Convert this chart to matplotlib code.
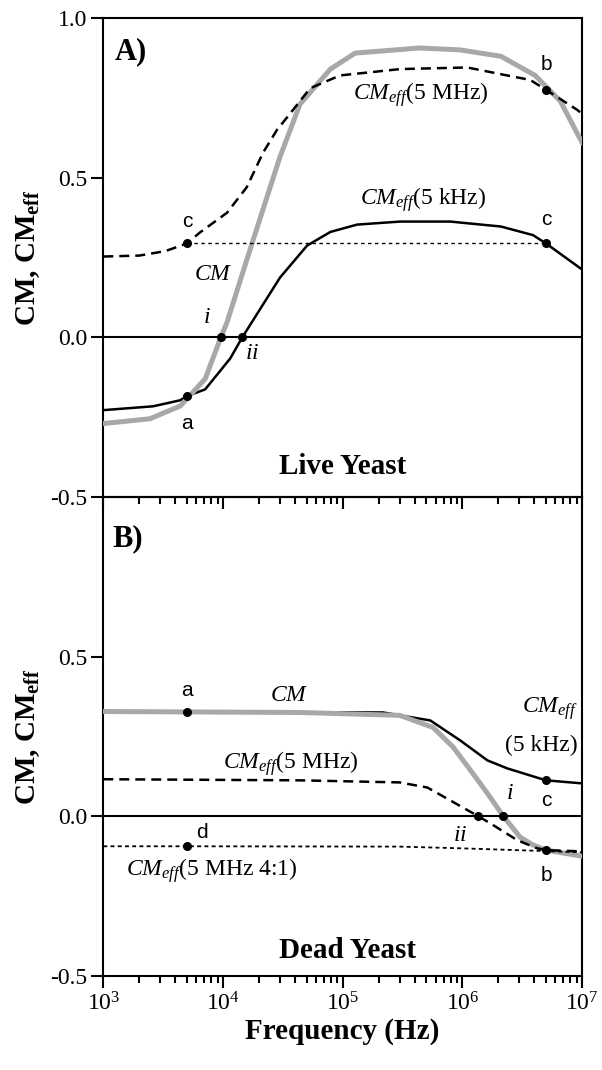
import numpy as np
import matplotlib
matplotlib.use("Agg")
import matplotlib.pyplot as plt
from matplotlib.ticker import LogLocator, NullFormatter, FixedLocator

plt.rcParams['font.family'] = ['Liberation Serif', 'DejaVu Serif']
plt.rcParams['mathtext.fontset'] = 'custom'
plt.rcParams['mathtext.rm'] = 'Liberation Serif'
plt.rcParams['mathtext.it'] = 'Liberation Serif:italic'
plt.rcParams['mathtext.bf'] = 'Liberation Serif:bold'

# ---- panel A: live yeast ----
a_cm_f = [1e3, 2.45e3, 4.4e3, 7.1e3, 9.6e3, 1.08e4, 1.79e4, 3.0e4, 4.4e4, 7.9e4,
          1.27e5, 4.4e5, 9.6e5, 2.1e6, 4.06e6, 6.58e6, 1e7]
a_cm_v = [-0.27, -0.255, -0.215, -0.13, 0.0, 0.047, 0.306, 0.566, 0.73, 0.84,
          0.89, 0.906, 0.9, 0.88, 0.82, 0.74, 0.61]

a_mhz_f = [1e3, 2.0e3, 3.3e3, 5e3, 6.4e3, 1.08e4, 1.58e4, 2.16e4, 2.83e4, 3.63e4,
           5.35e4, 9.5e4, 3.03e5, 1.1e6, 2.37e6, 3.69e6, 5e6, 9.1e6, 1e7]
a_mhz_v = [0.253, 0.256, 0.27, 0.294, 0.328, 0.39, 0.47, 0.578, 0.65, 0.70,
           0.78, 0.82, 0.84, 0.845, 0.82, 0.806, 0.775, 0.7125, 0.70]

a_khz_f = [1e3, 2.6e3, 4.4e3, 5e3, 7.1e3, 1.15e4, 1.45e4, 3.0e4, 5.05e4, 7.9e4,
           1.32e5, 3.03e5, 7.9e5, 2.1e6, 3.9e6, 5e6, 1e7]
a_khz_v = [-0.228, -0.216, -0.197, -0.184, -0.163, -0.066, 0.0, 0.1875, 0.2875, 0.33,
           0.353, 0.3625, 0.3625, 0.347, 0.32, 0.294, 0.2125]

a_pts_f = [5e3, 5e3, 9.6e3, 1.45e4, 5e6, 5e6]
a_pts_v = [0.294, -0.184, 0.0, 0.0, 0.775, 0.294]

# ---- panel B: dead yeast ----
b_cm_f = [1e3, 4.4e4, 3.0e5, 5.7e5, 8.4e5, 1.17e6, 1.62e6, 2.2e6, 3.05e6, 3.9e6, 5e6, 1e7]
b_cm_v = [0.328, 0.325, 0.316, 0.278, 0.216, 0.144, 0.072, 0.0, -0.066, -0.09, -0.106, -0.125]

b_khz_f = [1e3, 2.18e5, 5.4e5, 9.6e5, 1.62e6, 2.37e6, 5e6, 1e7]
b_khz_v = [0.328, 0.325, 0.30, 0.2375, 0.175, 0.15, 0.1125, 0.103]

b_mhz_f = [1e3, 4.4e4, 3.0e5, 5.1e5, 7.9e5, 1.36e6, 1.71e6, 2.88e6, 4.2e6, 5e6, 1e7]
b_mhz_v = [0.116, 0.1125, 0.106, 0.09, 0.05, 0.0, -0.022, -0.075, -0.1, -0.106, -0.11]

b_41_f = [1e3, 5e3, 3.0e5, 9.1e5, 5e6, 1e7]
b_41_v = [-0.094, -0.094, -0.095, -0.1, -0.109, -0.113]

b_pts_f = [5e3, 5e3, 1.36e6, 2.2e6, 5e6, 5e6]
b_pts_v = [0.328, -0.094, 0.0, 0.0, 0.1125, -0.106]

gray = '#a8a8a8'
fig = plt.figure(figsize=(6.02, 10.70), dpi=100)
axA = fig.add_axes([0.1716, 0.5355, 0.7952, 0.4477])
axB = fig.add_axes([0.1716, 0.0879, 0.7952, 0.4477])
axB.set_facecolor('none')

for ax in (axA, axB):
    ax.set_xscale('log')
    ax.set_xlim(1e3, 1e7)
    ax.set_ylim(-0.5, 1.0)
    ax.axhline(0, color='black', lw=1.5, zorder=1)
    for s in ax.spines.values():
        s.set_linewidth(1.5)
    ax.xaxis.set_major_locator(LogLocator(base=10, numticks=10))
    ax.xaxis.set_minor_locator(LogLocator(base=10, subs=np.arange(2, 10), numticks=10))
    ax.xaxis.set_minor_formatter(NullFormatter())
    ax.tick_params(which='major', direction='out', length=8.5, width=1.5, labelsize=17,
                   top=False, right=False, pad=3)
    ax.tick_params(which='minor', direction='out', length=5, width=1.5, top=False, right=False)
    ax.set_ylabel(r'CM, CM$_{\mathbf{eff}}$', fontsize=21, fontweight='bold')
    ax.yaxis.set_label_coords(-0.128, 0.5)

axA.yaxis.set_major_locator(FixedLocator([-0.5, 0.0, 0.5, 1.0]))
axA.set_yticklabels(['-0.5', '0.0', '0.5', '1.0'])
axA.tick_params(axis='x', labelbottom=False)
axB.yaxis.set_major_locator(FixedLocator([-0.5, 0.0, 0.5]))
axB.set_yticklabels(['-0.5', '0.0', '0.5'])

# panel A curves
axA.plot(a_khz_f, a_khz_v, color='black', lw=1.8, zorder=2)
axA.plot(a_cm_f, a_cm_v, color=gray, lw=3.6, zorder=3)
axA.plot(a_mhz_f, a_mhz_v, color='black', lw=1.8, dashes=(4, 2.4), zorder=4)
axA.plot([5e3, 5e6], [0.294, 0.294], color='black', lw=1.0, dashes=(2.5, 2.5), zorder=4)
axA.plot(a_pts_f, a_pts_v, 'o', color='black', ms=5.5, zorder=6)

# panel B curves
axB.plot(b_khz_f, b_khz_v, color='black', lw=1.8, zorder=2)
axB.plot(b_cm_f, b_cm_v, color=gray, lw=3.6, zorder=3)
axB.plot(b_mhz_f, b_mhz_v, color='black', lw=1.8, dashes=(4, 2.4), zorder=4)
axB.plot(b_41_f, b_41_v, color='black', lw=1.3, dashes=(2.2, 1.8), zorder=4)
axB.plot(b_pts_f, b_pts_v, 'o', color='black', ms=5.5, zorder=6)

sans = dict(family='Liberation Sans', fontsize=15, ha='center', va='center')
ital = dict(fontsize=17, ha='center', va='center')

# panel A text
axA.text(1.25e3, 0.894, 'A)', fontsize=22, fontweight='bold', ha='left', va='center')
axA.text(5e3, 0.3625, 'c', **sans)
axA.text(5e6, 0.853, 'b', **sans)
axA.text(5e6, 0.369, 'c', **sans)
axA.text(5e3, -0.27, 'a', **sans)
axA.text(7.4e3, 0.0625, r'$i$', **ital)
axA.text(1.75e4, -0.05, r'$ii$', **ital)
axA.text(8.3e3, 0.197, r'$CM$', **ital)
axA.text(4.5e5, 0.76, r'$CM_{eff}$(5 MHz)', **ital)
axA.text(4.7e5, 0.43, r'$CM_{eff}$(5 kHz)', **ital)
axA.text(1.0e5, -0.406, 'Live Yeast', fontsize=21, fontweight='bold', ha='center', va='center')

# panel B text
axB.text(1.2e3, 0.869, 'B)', fontsize=22, fontweight='bold', ha='left', va='center')
axB.text(5e3, 0.394, 'a', **sans)
axB.text(3.6e4, 0.378, r'$CM$', **ital)
axB.text(3.65e4, 0.166, r'$CM_{eff}$(5 MHz)', **ital)
axB.text(6.7e3, -0.05, 'd', **sans)
axB.text(8.1e3, -0.169, r'$CM_{eff}$(5 MHz 4:1)', **ital)
axB.text(9.2e6, 0.3375, r'$CM_{eff}$', fontsize=17, ha='right', va='center')
axB.text(9.2e6, 0.222, '(5 kHz)', fontsize=17, ha='right', va='center')
axB.text(5e6, 0.05, 'c', **sans)
axB.text(2.5e6, 0.072, r'$i$', **ital)
axB.text(9.6e5, -0.06, r'$ii$', **ital)
axB.text(5e6, -0.184, 'b', **sans)
axB.text(1.1e5, -0.419, 'Dead Yeast', fontsize=21, fontweight='bold', ha='center', va='center')

axB.set_xlabel('Frequency (Hz)', fontsize=21, fontweight='bold', labelpad=2)

fig.savefig('out.png', dpi=100)
